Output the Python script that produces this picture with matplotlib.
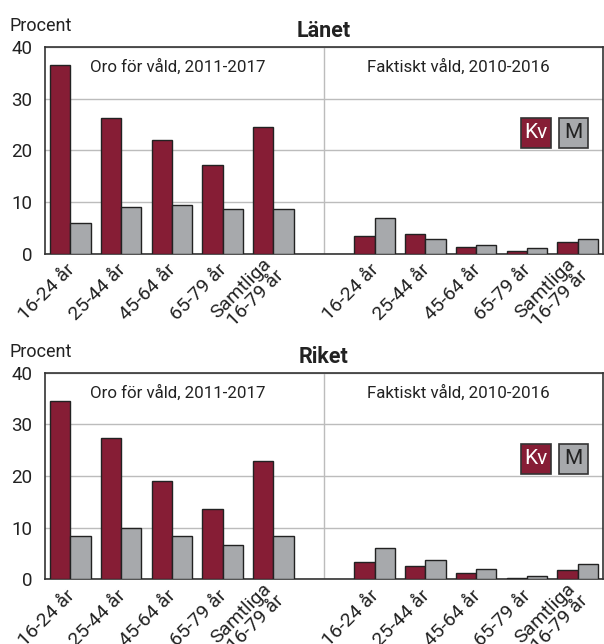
import numpy as np
import matplotlib
matplotlib.use('Agg')
import matplotlib.pyplot as plt
from matplotlib.patches import Rectangle

plt.rcParams['font.family'] = ['Roboto', 'DejaVu Sans']

# data
groups = ['16-24 år', '25-44 år', '45-64 år', '65-79 år', 'Samtliga\n16-79 år']
sections = ['Oro för våld, 2011-2017', 'Faktiskt våld, 2010-2016']
titles = ['Länet', 'Riket']

lan_oro_kv = [36.4, 26.3, 21.9, 17.2, 24.6]
lan_oro_m = [5.9, 9.1, 9.5, 8.7, 8.6]
lan_fakt_kv = [3.5, 3.8, 1.3, 0.6, 2.3]
lan_fakt_m = [6.9, 2.8, 1.7, 1.1, 2.8]

rik_oro_kv = [34.5, 27.4, 19.1, 13.7, 22.9]
rik_oro_m = [8.4, 9.9, 8.3, 6.6, 8.4]
rik_fakt_kv = [3.4, 2.5, 1.2, 0.3, 1.7]
rik_fakt_m = [6.1, 3.8, 1.9, 0.6, 2.9]

kv_col = '#861d35'
m_col = '#a7a9ac'
edge = '#222222'
grid_col = '#bcbcbc'
txt = '#222222'

fig = plt.figure(figsize=(6.04, 6.44), dpi=100)
ax1 = fig.add_axes([0.0745, 0.6056, 0.9238, 0.3219])
ax2 = fig.add_axes([0.0745, 0.1005, 0.9238, 0.3208])

panels = [(ax1, titles[0], lan_oro_kv + lan_fakt_kv, lan_oro_m + lan_fakt_m),
          (ax2, titles[1], rik_oro_kv + rik_fakt_kv, rik_oro_m + rik_fakt_m)]

x = np.concatenate([np.arange(5), np.arange(6, 11)])
w = 0.4

for ax, title, kv, m in panels:
    ax.bar(x - w/2, kv, w, color=kv_col, edgecolor=edge, linewidth=1, zorder=3)
    ax.bar(x + w/2, m, w, color=m_col, edgecolor=edge, linewidth=1, zorder=3)
    ax.set_xlim(-0.5, 10.5)
    ax.set_ylim(0, 40)
    ax.set_yticks([0, 10, 20, 30, 40])
    ax.yaxis.grid(True, color=grid_col, linewidth=1, zorder=0)
    ax.axvline(5, color=grid_col, linewidth=1, zorder=0)
    ax.set_xticks(x)
    ax.set_xticklabels(groups * 2, rotation=45, ha='right', va='center_baseline',
                       rotation_mode='anchor', fontsize=14, color=txt,
                       linespacing=0.95, multialignment='right')
    ax.tick_params(axis='both', length=0, colors=txt)
    ax.tick_params(axis='y', labelsize=13.5, pad=9)
    ax.tick_params(axis='x', pad=8.5)
    for s in ax.spines.values():
        s.set_color('#333333')
        s.set_linewidth(1.2)
    ax.set_title(title, fontsize=15.5, fontweight='bold', color=txt, pad=7)
    ax.text(0.2375, 0.905, sections[0], transform=ax.transAxes, ha='center',
            va='center', fontsize=12.2, color=txt)
    ax.text(0.7415, 0.905, sections[1], transform=ax.transAxes, ha='center',
            va='center', fontsize=12.2, color=txt)
    ax.text(-0.063, 1.1, 'Procent', transform=ax.transAxes, ha='left',
            va='center', fontsize=13, color=txt)
    # legend boxes
    for cx, lab, fc, tc in [(0.88, 'Kv', kv_col, 'white'), (0.947, 'M', m_col, txt)]:
        bw = 29.7 / 558
        bh = 30 / 207
        ax.add_patch(Rectangle((cx - bw/2, 0.584 - bh/2), bw, bh, transform=ax.transAxes,
                               facecolor=fc, edgecolor='#333333', linewidth=1.2, zorder=4))
        ax.text(cx, 0.584, lab, transform=ax.transAxes, ha='center', va='center',
                fontsize=15, color=tc, zorder=5)

fig.savefig('out.png', dpi=100)
